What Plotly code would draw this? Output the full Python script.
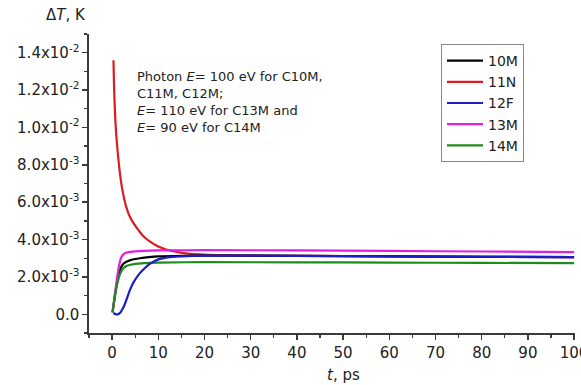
import plotly.graph_objects as go

# ---- data (values in units of 1e-3 K) ----
t_10M = [0.1, 0.5, 1.0, 1.5, 2.0, 2.5, 3.0, 4, 5, 6, 8, 10, 15, 20, 40, 60, 80, 100]
v_10M = [0.1, 0.8, 1.6, 2.2, 2.55, 2.72, 2.8, 2.9, 2.96, 3.0, 3.06, 3.1, 3.13, 3.14, 3.13, 3.1, 3.08, 3.06]

t_11N = [0.3, 0.4, 0.5, 0.7, 0.9, 1.1, 1.3, 1.6, 1.9, 2.2, 2.6, 3.0, 3.7, 4.7, 5.9, 7, 8.7, 10, 11.7, 14, 16, 20, 30, 50, 100]
v_11N = [13.6, 12.4, 11.6, 10.4, 9.6, 9.0, 8.45, 7.75, 7.15, 6.7, 6.2, 5.8, 5.3, 4.85, 4.44, 4.12, 3.81, 3.63, 3.47, 3.34, 3.26, 3.19, 3.14, 3.12, 3.06]

t_12F = [0.3, 0.7, 1.2, 1.8, 2.5, 3.0, 3.7, 4.5, 5.8, 7, 8, 10, 12, 15, 20, 40, 60, 80, 100]
v_12F = [0.07, 0.01, 0.0, 0.1, 0.4, 0.7, 1.2, 1.65, 2.14, 2.45, 2.67, 2.94, 3.05, 3.1, 3.14, 3.13, 3.1, 3.08, 3.06]

t_13M = [0.1, 0.5, 1.0, 1.5, 2.0, 2.5, 3, 4, 5, 7, 10, 20, 40, 60, 80, 100]
v_13M = [0.1, 0.9, 1.8, 2.6, 3.05, 3.22, 3.29, 3.34, 3.37, 3.4, 3.42, 3.43, 3.42, 3.39, 3.36, 3.33]

t_14M = [0.1, 0.5, 1.0, 1.5, 2.0, 2.5, 3, 4, 5, 7, 10, 20, 40, 60, 80, 100]
v_14M = [0.1, 0.8, 1.5, 2.0, 2.3, 2.48, 2.57, 2.65, 2.7, 2.74, 2.77, 2.79, 2.78, 2.77, 2.75, 2.74]

y_tickvals = [0, 0.002, 0.004, 0.006, 0.008, 0.010, 0.012, 0.014]
y_ticktext = ["0.0", "2.0x10<sup>-3</sup>", "4.0x10<sup>-3</sup>", "6.0x10<sup>-3</sup>",
              "8.0x10<sup>-3</sup>", "1.0x10<sup>-2</sup>", "1.2x10<sup>-2</sup>", "1.4x10<sup>-2</sup>"]
x_tickvals = [0, 10, 20, 30, 40, 50, 60, 70, 80, 90, 100]

FONT = "DejaVu Sans"
AX = "#3a3a3a"

series = [
    ("11N", t_11N, v_11N, "#dc1c24", 2),
    ("10M", t_10M, v_10M, "#000000", 1),
    ("13M", t_13M, v_13M, "#e01fe0", 4),
    ("14M", t_14M, v_14M, "#1f8a1f", 5),
    ("12F", t_12F, v_12F, "#1c1cc8", 3),
]

fig = go.Figure()
for name, t, v, col, rank in series:
    fig.add_trace(go.Scatter(
        x=t, y=[val * 1e-3 for val in v], mode="lines", name=name,
        line=dict(color=col, width=2.2, shape="spline", smoothing=0.8),
        legendrank=rank,
    ))

fig.update_layout(
    width=581, height=385,
    margin=dict(l=89, r=6, t=34, b=52, autoexpand=False),
    paper_bgcolor="white", plot_bgcolor="white",
    font=dict(family=FONT, size=14, color="#222"),
    showlegend=True,
    legend=dict(x=(441 - 89) / 486, y=(333 - 44) / 299, xanchor="left", yanchor="top",
                bordercolor="#888", borderwidth=1, bgcolor="white",
                font=dict(size=14, family=FONT, color="#222"),
                tracegroupgap=0, itemwidth=36),
    xaxis=dict(range=[-5, 100.2], tickmode="array", tickvals=x_tickvals, automargin=False,
               showgrid=False, zeroline=False, showline=True, linecolor=AX, linewidth=1.6,
               ticks="outside", ticklen=5, tickwidth=1.5, tickcolor=AX,
               minor=dict(dtick=5, tick0=0, ticks="outside", ticklen=3, tickwidth=1.3, tickcolor=AX),
               tickfont=dict(size=15), ticklabeloverflow="allow"),
    yaxis=dict(range=[-0.001, 0.015], tickmode="array", tickvals=y_tickvals, ticktext=y_ticktext,
               automargin=False,
               showgrid=False, zeroline=False, showline=True, linecolor=AX, linewidth=1.6,
               ticks="outside", ticklen=5, tickwidth=1.5, tickcolor=AX,
               minor=dict(dtick=0.001, tick0=0, ticks="outside", ticklen=3, tickwidth=1.3, tickcolor=AX),
               tickfont=dict(size=15)),
)

fig.add_annotation(text="Δ<i>T</i>, K", xref="paper", yref="paper", x=-0.003, y=1.0, yshift=19,
                   xanchor="right", yanchor="middle", showarrow=False,
                   font=dict(size=15, family=FONT, color="#222"))
fig.add_annotation(text="<i>t</i>, ps", xref="paper", yref="paper", x=0.523, y=0, yshift=-42,
                   xanchor="center", yanchor="middle", showarrow=False,
                   font=dict(size=15, family=FONT, color="#222"))
fig.add_annotation(
    text="Photon <i>E</i>= 100 eV for C10M,<br>C11M, C12M;<br><i>E</i>= 110 eV for C13M and<br><i>E</i>= 90 eV for C14M",
    xref="paper", yref="paper", x=(135 - 89) / 486, y=(333 - 67) / 299,
    xanchor="left", yanchor="top", align="left", showarrow=False,
    font=dict(size=13, family=FONT, color="#222"))

fig.write_html("out.html", config={"displayModeBar": False, "staticPlot": True},
               post_script="document.body.style.margin='0px';document.body.style.overflow='hidden';")
